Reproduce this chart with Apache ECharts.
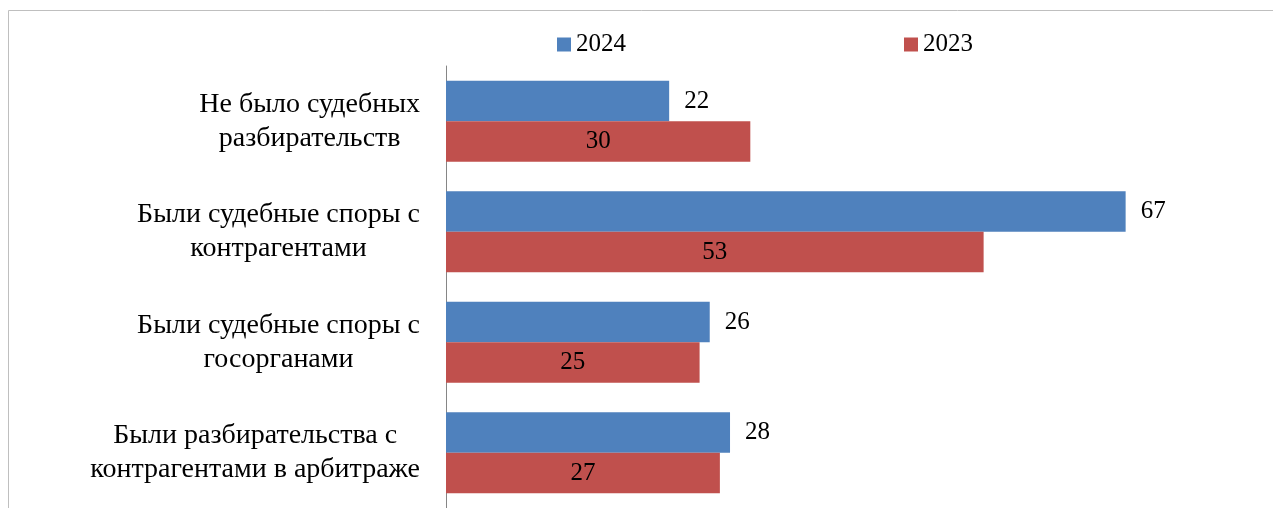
<!DOCTYPE html>
<html><head><meta charset="utf-8">
<script src="https://cdn.jsdelivr.net/npm/echarts@6/dist/echarts.min.js"></script>
<style>html,body{margin:0;padding:0;background:#fff}#c{width:1273px;height:508px}</style>
</head><body><div id="c"></div>
<script>
const categories = [
  "Не было судебных\nразбирательств",
  "Были судебные споры с\nконтрагентами",
  "Были судебные споры с\nгосорганами",
  "Были разбирательства с\nконтрагентами в арбитраже"
];
const seriesNames = ["2024", "2023"];
const values2024 = [22, 67, 26, 28];
const values2023 = [30, 53, 25, 27];

const chart = echarts.init(document.getElementById('c'), null, {renderer: 'canvas'});
const serif = '"Liberation Serif", "Times New Roman", serif';
chart.setOption({
  animation: false,
  backgroundColor: '#fff',
  graphic: [{
    type: 'rect', silent: true,
    shape: {x: 8.5, y: 10.5, width: 1300, height: 600},
    style: {fill: 'none', stroke: '#BFBFBF', lineWidth: 1}
  }],
  legend: {
    data: seriesNames,
    top: 27, left: 552,
    itemWidth: 14, itemHeight: 14, itemGap: 278,
    icon: 'rect',
    textStyle: {fontFamily: serif, fontSize: 25, color: '#000'}
  },
  grid: {left: 446, right: 15.5, top: 66, bottom: -7, containLabel: false},
  xAxis: {
    type: 'value', min: 0, max: 80, show: false
  },
  yAxis: {
    type: 'category', data: categories, inverse: true,
    axisLine: {show: true, lineStyle: {color: '#868686', width: 1}},
    axisTick: {show: false},
    axisLabel: {
      margin: 26,
      formatter: function (v) {
        return v.split('\n').map(s => '{a|' + s + '}').join('\n');
      },
      rich: {a: {fontFamily: serif, fontSize: 28, color: '#000', align: 'center', lineHeight: 34}}
    }
  },
  series: [
    {
      name: seriesNames[0], type: 'bar', data: values2024,
      barWidth: 40.5, barGap: '0%',
      itemStyle: {color: '#4F81BD'},
      label: {show: true, position: 'right', distance: 15, fontFamily: serif, fontSize: 25, color: '#000'}
    },
    {
      name: seriesNames[1], type: 'bar', data: values2023,
      barWidth: 40.5, barGap: '0%',
      itemStyle: {color: '#C0504D'},
      label: {show: true, position: 'inside', fontFamily: serif, fontSize: 25, color: '#000'}
    }
  ]
});
</script></body></html>
